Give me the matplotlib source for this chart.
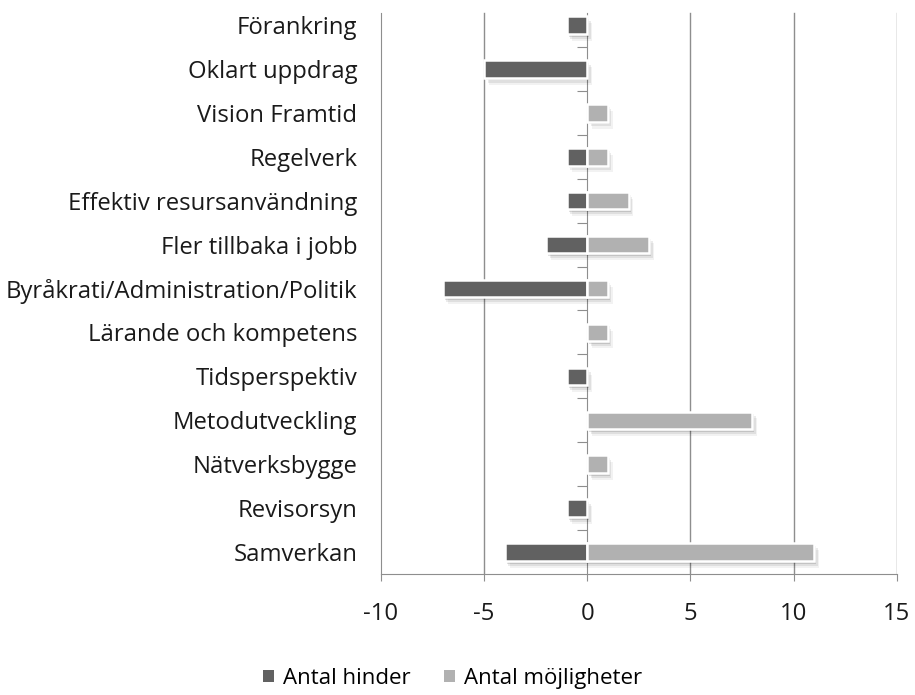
import numpy as np
import matplotlib
matplotlib.use("Agg")
import matplotlib.pyplot as plt
import matplotlib.patheffects as pe
from matplotlib.patches import Patch

plt.rcParams['font.family'] = ['Open Sans', 'DejaVu Sans']

categories = ["Förankring", "Oklart uppdrag", "Vision Framtid", "Regelverk",
              "Effektiv resursanvändning", "Fler tillbaka i jobb",
              "Byråkrati/Administration/Politik", "Lärande och kompetens",
              "Tidsperspektiv", "Metodutveckling", "Nätverksbygge",
              "Revisorsyn", "Samverkan"]
hinder = [-1, -5, 0, -1, -1, -2, -7, 0, -1, 0, 0, -1, -4]
mojligheter = [0, 0, 1, 1, 2, 3, 1, 1, 0, 8, 1, 0, 11]
series_names = ["Antal hinder", "Antal möjligheter"]
x_ticks = [-10, -5, 0, 5, 10, 15]

dark = '#616161'
light = '#b1b1b1'
grid_col = '#8e8e8e'
fs = 17.2

fig = plt.figure(figsize=(9.15, 6.95), dpi=100)
ax = fig.add_axes([0.4164, 0.174, 0.98 - 0.4164, 0.9957 - 0.174])

y = np.arange(len(categories))
# soft shadow: a few stacked offsets
shadow = [pe.SimplePatchShadow(offset=(1.5, -2), shadow_rgbFace='#000000', alpha=0.12),
          pe.SimplePatchShadow(offset=(2.5, -3.5), shadow_rgbFace='#000000', alpha=0.08),
          pe.SimplePatchShadow(offset=(3.5, -5), shadow_rgbFace='#000000', alpha=0.05),
          pe.Normal()]

h = 0.4
b1 = ax.barh(y, hinder, height=h, color=dark, edgecolor='white', linewidth=1.8, zorder=3)
b2 = ax.barh(y, mojligheter, height=h, color=light, edgecolor='white', linewidth=1.8, zorder=3)
for bar in list(b1) + list(b2):
    if bar.get_width() != 0:
        bar.set_path_effects(shadow)
    else:
        bar.set_visible(False)

ax.set_xlim(-10, 15)
ax.set_ylim(len(categories) - 0.5, -0.5)

# vertical gridlines
for xv in x_ticks[1:]:
    if xv != 0:
        ax.axvline(xv, ymin=0, ymax=0.983, color=grid_col, lw=1, zorder=1)

ax.set_yticks(y)
ax.set_yticklabels(categories, fontsize=fs, color='#1a1a1a')
ax.tick_params(axis='y', length=0, pad=17)
ax.set_xticks(x_ticks)
ax.set_xticklabels([str(v) for v in x_ticks], fontsize=fs, color='#1a1a1a')
ax.tick_params(axis='x', direction='out', length=5, color=grid_col, pad=15)

for s in ['top', 'right']:
    ax.spines[s].set_visible(False)
ax.spines['left'].set_color(grid_col)
ax.spines['bottom'].set_color(grid_col)
ax.spines['left'].set_bounds(len(categories) - 0.5, -0.5 + 0.22)

# category axis at zero
sec = ax.secondary_yaxis(0.4)
sec.set_yticks(np.arange(len(categories) - 1) + 0.5)
sec.set_yticklabels([])
sec.tick_params(direction='out', length=7, color=grid_col)
sec.spines['left'].set_color(grid_col)
sec.spines['left'].set_bounds(len(categories) - 0.5, -0.5 + 0.22)

handles = [Patch(facecolor=dark), Patch(facecolor=light)]
fig.legend(handles=handles, labels=series_names, loc='lower center',
           bbox_to_anchor=(0.495, -0.02), ncol=2, frameon=False, fontsize=16,
           handlelength=0.5, handleheight=0.5, handletextpad=0.4, columnspacing=1.5)

fig.savefig('out.png', dpi=100)
